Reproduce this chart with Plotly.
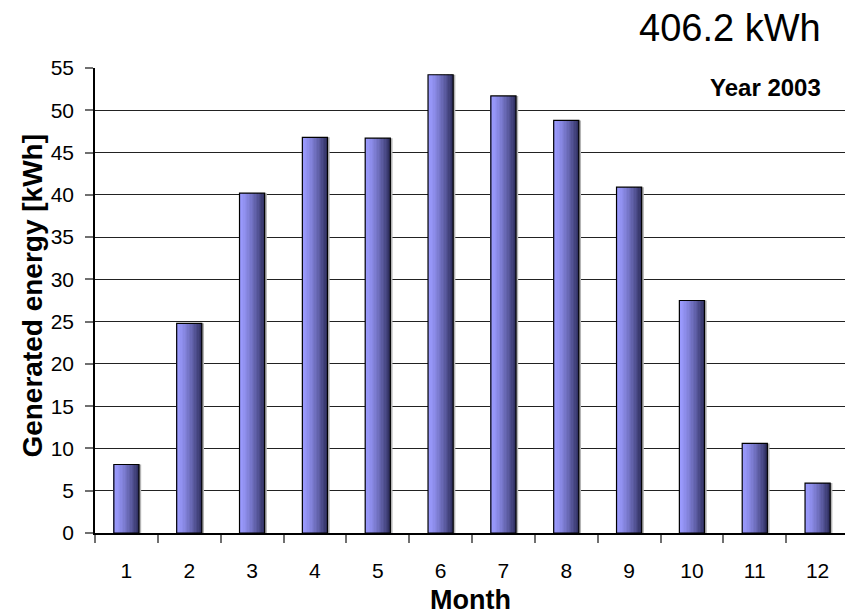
import plotly.graph_objects as go

# Monthly generated energy, year 2003
months = list(range(1, 13))
energy = [8.1, 24.8, 40.2, 46.8, 46.7, 54.2, 51.7, 48.8, 40.9, 27.5, 10.6, 5.9]
y_ticks = list(range(0, 60, 5))
total_label = "406.2 kWh"
year_label = "Year 2003"

BAR_W = 0.4
N_STRIPS = 18
LEFT_RGB = (155, 155, 255)
RIGHT_RGB = (50, 50, 100)


def shade(t):
    t = t ** 1.4
    return "rgb({},{},{})".format(*[round(a + (b - a) * t) for a, b in zip(LEFT_RGB, RIGHT_RGB)])


fig = go.Figure()

# soft shadow to the right of each bar
fig.add_trace(go.Bar(
    x=months, y=energy, width=BAR_W, offset=-BAR_W / 2 + 0.035,
    marker=dict(color="#b4b4b4", line=dict(width=0)), hoverinfo="skip",
))

# horizontal light-to-dark gradient built from thin vertical strips
strip_w = BAR_W / N_STRIPS
for i in range(N_STRIPS):
    fig.add_trace(go.Bar(
        x=months, y=energy, width=strip_w * 1.05,
        offset=-BAR_W / 2 + i * strip_w,
        marker=dict(color=shade(i / (N_STRIPS - 1)), line=dict(width=0)),
        hoverinfo="skip",
    ))

# black outline of each bar
fig.add_trace(go.Bar(
    x=months, y=energy, width=BAR_W, offset=-BAR_W / 2,
    marker=dict(color="rgba(0,0,0,0)", line=dict(color="#000000", width=1.2)),
))

fig.update_layout(
    width=845, height=616,
    margin=dict(l=95, r=0, t=68, b=83),
    paper_bgcolor="white", plot_bgcolor="white",
    barmode="overlay", showlegend=False,
    font=dict(family="Liberation Sans, Arial, sans-serif", color="#000000", size=21),
    xaxis=dict(
        range=[0.5, 12.436], tickmode="array", tickvals=months,
        ticktext=[str(m) for m in months], ticks="", showgrid=False, zeroline=False,
        showline=True, linecolor="#000000", linewidth=1.5,
        ticklabelstandoff=18, tickfont=dict(size=21),
        minor=dict(tickmode="linear", tick0=0.5, dtick=1, ticks="outside",
                   ticklen=8, tickwidth=1.5, tickcolor="#707070", showgrid=False),
    ),
    yaxis=dict(
        range=[0, 55], tickmode="array", tickvals=y_ticks, ticks="outside",
        ticklen=8, tickwidth=1.5, tickcolor="#707070",
        showgrid=True, gridcolor="#222222", gridwidth=1.4, zeroline=False,
        showline=True, linecolor="#000000", linewidth=1.5,
        ticklabelstandoff=7, tickfont=dict(size=21),
    ),
    annotations=[
        dict(text=total_label, xref="paper", yref="paper", x=0.9707, y=1.087,
             xanchor="right", yanchor="middle", showarrow=False,
             font=dict(size=38)),
        dict(text="<b>" + year_label + "</b>", xref="paper", yref="paper",
             x=0.9707, y=0.957, xanchor="right", yanchor="middle",
             showarrow=False, font=dict(size=24)),
        dict(text="<b>Month</b>", xref="paper", yref="paper", x=0.5, y=-0.144,
             xanchor="center", yanchor="middle", showarrow=False,
             font=dict(size=27)),
        dict(text="<b>Generated energy [kWh]</b>", xref="paper", yref="paper",
             x=-0.083, y=0.51, xanchor="center", yanchor="middle",
             textangle=-90, showarrow=False, font=dict(size=28)),
    ],
)

fig.write_html("out.html")
